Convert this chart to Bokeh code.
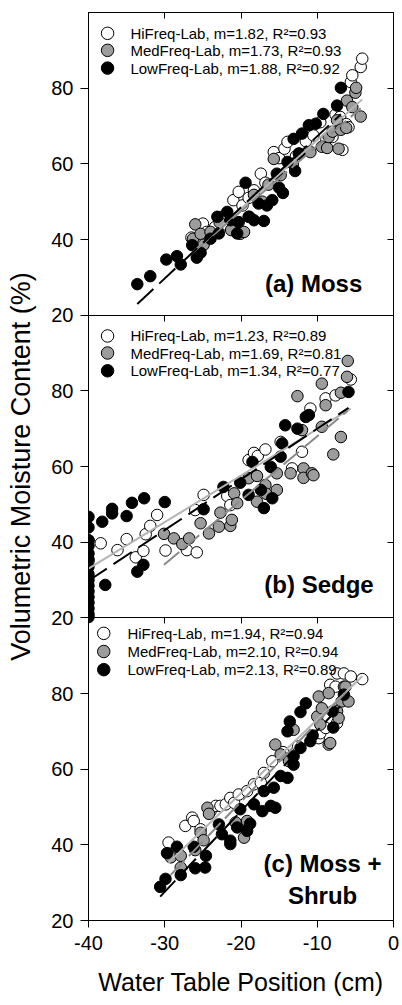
import numpy as np
from bokeh.plotting import figure
from bokeh.models import Range1d, LinearAxis, FixedTicker
from bokeh.core.properties import value
from bokeh.embed import file_html
from bokeh.resources import INLINE

# ---------------- data ----------------
series = ["HiFreq-Lab", "MedFreq-Lab", "LowFreq-Lab"]
panel_keys = ["a", "b", "c"]
panel_titles = ["(a) Moss", "(b) Sedge", "(c) Moss +\nShrub"]

xticks = [-40, -30, -20, -10, 0]
xtick_labels = ["-40", "-30", "-20", "-10", "0"]
yticks = [20, 40, 60, 80]

# Panel (a) Moss
hi_a_x = [-26.5, -25.0, -24.5, -23.4, -22.5, -21.8, -21.0, -20.3, -19.8, -19.0, -18.3, -17.4, -16.8, -15.7, -15.0, -14.3,
          -13.9, -12.8, -11.5, -10.5, -9.6, -8.8, -8.0, -7.6, -7.0, -6.7, -6.2, -5.9, -5.6, -5.4, -4.3, -4.1]
hi_a_y = [40.5, 44.2, 42.0, 43.3, 46.0, 43.8, 50.4, 52.6, 49.0, 51.0, 53.0, 57.4, 55.0, 63.1, 61.5, 64.0,
          65.8, 62.0, 66.0, 67.5, 71.0, 66.5, 67.1, 73.0, 72.4, 63.7, 70.5, 69.7, 81.6, 83.4, 85.6, 87.8]
med_a_x = [-26.3, -26.0, -25.3, -24.9, -24.0, -22.8, -21.3, -20.1, -19.6, -18.9, -18.3, -17.2, -16.4, -15.7, -14.8, -13.2,
           -12.4, -10.9, -9.4, -8.7, -8.5, -8.0, -7.4, -7.2, -6.9, -6.2, -6.1, -5.4, -5.0, -4.9, -4.3]
med_a_y = [40.2, 44.0, 41.5, 38.6, 42.0, 44.5, 42.5, 41.5, 42.0, 46.0, 51.8, 50.0, 54.5, 61.3, 57.0, 60.0,
           62.7, 63.1, 64.5, 64.2, 67.1, 68.5, 71.5, 64.0, 69.0, 69.5, 76.7, 75.0, 78.8, 80.1, 72.5]
low_a_x = [-33.6, -31.9, -29.8, -28.4, -27.9, -26.4, -25.8, -25.3, -24.0, -23.1, -22.9, -21.8, -21.4, -20.5, -20.3, -19.4,
           -19.0, -18.3, -17.7, -17.0, -16.6, -15.9, -15.3, -15.0, -14.5, -13.9, -13.1, -12.9, -12.4, -12.0, -11.1, -10.2,
           -9.2, -7.4, -6.9]
low_a_y = [28.2, 30.3, 34.7, 35.6, 33.4, 38.5, 35.2, 36.5, 40.2, 46.0, 41.6, 47.3, 45.1, 41.6, 44.6, 55.0,
           46.0, 45.1, 49.5, 44.9, 49.0, 50.4, 57.4, 53.7, 52.3, 60.5, 66.6, 58.1, 62.7, 68.0, 70.2, 70.6,
           73.2, 75.4, 80.1]
slope_a = [1.82, 1.73, 1.88]
r2_a = [0.93, 0.93, 0.92]
icpt_a = [84.5, 82.1, 86.1]

# Panel (b) Sedge
hi_b_x = [-40.0, -40.0, -38.4, -36.2, -35.0, -33.8, -32.8, -32.5, -31.9, -31.0, -29.9, -27.1, -26.0, -25.8, -24.9, -21.8,
          -21.4, -19.0, -18.3, -17.8, -16.8, -14.8, -13.3, -12.0, -10.9, -8.9, -7.6, -5.6]
hi_b_y = [40.5, 35.0, 39.7, 37.9, 40.8, 36.0, 37.7, 42.1, 44.3, 47.2, 37.8, 37.9, 48.5, 37.3, 52.5, 52.2,
          49.8, 61.7, 63.6, 62.8, 64.5, 66.5, 59.5, 63.9, 75.3, 78.0, 78.8, 83.0]
med_b_x = [-30.1, -28.8, -27.7, -26.8, -25.3, -24.2, -22.9, -22.7, -21.4, -21.2, -20.9, -20.5, -19.0, -17.9, -17.9, -16.8,
           -16.7, -15.3, -15.3, -13.5, -12.6, -12.0, -11.8, -11.8, -10.7, -10.5, -9.4, -9.4, -8.9, -7.9, -6.9, -6.9,
           -6.1, -6.0]
med_b_y = [42.2, 41.0, 39.5, 41.0, 45.0, 42.3, 44.1, 47.8, 44.3, 45.9, 52.9, 50.3, 56.9, 50.7, 57.5, 55.1,
           52.8, 58.2, 53.8, 58.2, 78.6, 69.6, 59.5, 57.0, 58.2, 57.7, 70.5, 81.9, 76.2, 63.2, 67.8, 79.5,
           83.7, 87.9]
low_b_x = [-40.0, -40.0, -40.0, -40.0, -40.0, -40.0, -40.0, -40.0, -40.0, -40.0, -40.0, -40.0, -40.0, -40.0, -40.0, -40.0,
           -38.2, -37.8, -36.9, -36.9, -35.0, -34.3, -33.6, -32.8, -32.7, -30.0, -24.9, -22.3, -20.1, -19.0, -18.5, -17.4,
           -17.0, -16.1, -15.9, -14.8, -14.6, -14.2, -12.6, -11.5, -11.1, -5.9]
low_b_y = [46.7, 43.9, 40.5, 39.0, 37.0, 35.5, 33.5, 31.5, 30.0, 28.5, 27.0, 25.5, 24.0, 22.5, 21.0, 20.2,
           45.4, 28.7, 47.6, 48.8, 46.9, 50.4, 32.2, 34.0, 51.6, 50.6, 48.7, 54.6, 55.7, 52.5, 61.2, 53.8,
           49.0, 59.9, 51.6, 62.6, 66.1, 70.9, 70.0, 73.1, 73.6, 79.7]
slope_b = [1.23, 1.69, 1.34]
r2_b = [0.89, 0.81, 0.77]
icpt_b = [82.2, 84.9, 83.4]

# Panel (c) Moss + Shrub
hi_c_x = [-29.5, -27.3, -26.4, -26.2, -25.3, -24.0, -23.3, -22.7, -22.0, -21.4, -20.9, -20.3, -19.2, -18.3, -17.4, -17.0,
          -15.9, -14.5, -12.5, -9.8, -9.6, -8.9, -8.3, -7.6, -7.4, -7.4, -6.5, -5.6, -4.1]
hi_c_y = [40.6, 45.0, 47.2, 46.3, 44.1, 48.9, 50.3, 50.3, 50.7, 52.4, 51.1, 53.3, 54.2, 56.0, 56.4, 59.0,
          62.1, 64.5, 66.0, 68.2, 69.5, 70.9, 82.3, 81.8, 72.2, 85.3, 85.3, 84.5, 83.8]
med_c_x = [-29.2, -27.9, -27.9, -26.0, -25.3, -24.9, -24.4, -24.2, -20.7, -19.6, -19.2, -15.5, -14.8, -13.7, -13.1, -10.0,
           -9.8, -9.6, -9.4, -8.5, -8.5, -8.3, -7.4, -7.2, -6.8, -6.5, -6.3, -5.9]
med_c_y = [36.7, 37.1, 34.0, 38.6, 43.2, 41.2, 49.8, 48.2, 45.9, 41.9, 46.3, 66.5, 63.9, 62.1, 70.4, 73.9,
           79.2, 71.8, 76.1, 80.1, 66.5, 66.9, 75.3, 73.5, 77.9, 81.8, 81.8, 77.9]
low_c_x = [-30.6, -29.9, -29.7, -28.4, -27.9, -26.2, -26.0, -24.7, -24.6, -22.9, -22.5, -21.4, -21.4, -20.1, -20.5, -19.2,
           -18.8, -18.3, -17.0, -17.2, -16.1, -15.7, -15.5, -14.8, -13.9, -13.9, -13.6, -13.1, -13.1, -12.2, -11.5, -12.2,
           -10.9, -10.6, -8.0, -7.9, -6.5]
low_c_y = [28.9, 31.0, 37.8, 39.5, 32.0, 39.5, 33.8, 34.0, 37.1, 45.4, 42.8, 41.1, 40.2, 49.4, 44.6, 43.7,
           45.6, 50.7, 54.2, 48.9, 50.3, 55.1, 49.8, 58.2, 57.7, 70.0, 72.6, 61.2, 63.4, 75.1, 77.4, 65.6,
           67.4, 68.9, 75.3, 71.0, 79.7]
slope_c = [1.94, 2.10, 2.13]
r2_c = [0.94, 0.94, 0.89]
icpt_c = [92.5, 93.4, 91.5]

# ---------------- styles / layout ----------------
fills = ["white", "#9c9c9c", "black"]
line_colors = ["#b4b4b4", "#8a8a8a", "black"]
line_dashes = ["solid", "20 6", "22 8"]
FONT = "Liberation Sans"

xmin, xmax = -40, 0
ymin, ymax = 20, 100
span = ymax - ymin
npan = 3

leg_marker_x = [-37.5, -37.5, -38.0]
leg_text_x = [-34.5, -34.5, -34.9]
leg_rows = [[94.5, 90.0, 85.3], [94.5, 90.0, 85.3], [95.9, 91.1, 86.3]]
title_xy = [(-4.1, 28.5, "right"), (-2.6, 28.7, "right"), (-9.3, 30.8, "center")]

p = figure(width=402, height=1005, output_backend="svg", toolbar_location=None,
           x_range=Range1d(xmin, xmax), y_range=Range1d(ymin, ymin + npan * span),
           min_border_left=88, min_border_right=9, min_border_top=12, min_border_bottom=85,
           background_fill_color="white", border_fill_color="white")
p.grid.visible = False
p.outline_line_color = "black"
p.outline_line_width = 1

# extra y ranges: each panel keeps its own 20..100 scale
offsets = {"a": 2 * span, "b": span, "c": 0}
for k, off in offsets.items():
    if off:
        p.extra_y_ranges[k] = Range1d(ymin - off, ymin + npan * span - off)

def rname(k):
    return "default" if offsets[k] == 0 else k

# axes
all_yticks, ylabels = [], {}
for off in sorted(offsets.values()):
    for v in yticks:
        all_yticks.append(v + off)
        ylabels[v + off] = str(v)

yax = p.yaxis[0]
yax.ticker = FixedTicker(ticks=all_yticks)
yax.major_label_overrides = ylabels
yax.major_tick_out = 8
yax.major_tick_in = 0
yax.minor_tick_line_color = None
yax.major_label_standoff = 7
yax.major_label_text_font = FONT
yax.major_label_text_font_size = "20px"
yax.major_label_text_color = "black"
yax.axis_label = "Volumetric Moisture Content (%)"
yax.axis_label_text_font = FONT
yax.axis_label_text_font_size = "27px"
yax.axis_label_text_font_style = "normal"
yax.axis_label_text_color = "black"
yax.axis_label_standoff = 12

xax = p.xaxis[0]
xax.ticker = FixedTicker(ticks=xticks)
xax.major_label_overrides = dict(zip(xticks, xtick_labels))
xax.major_tick_out = 7
xax.major_tick_in = 0
xax.minor_tick_line_color = None
xax.major_label_standoff = 8
xax.major_label_text_font = FONT
xax.major_label_text_font_size = "20px"
xax.major_label_text_color = "black"
xax.axis_label = "Water Table Position (cm)"
xax.axis_label_text_font = FONT
xax.axis_label_text_font_size = "25px"
xax.axis_label_text_font_style = "normal"
xax.axis_label_text_color = "black"
xax.axis_label_standoff = 15

right = LinearAxis(ticker=FixedTicker(ticks=all_yticks), major_tick_in=6, major_tick_out=0,
                   major_label_overrides={t: "" for t in all_yticks}, major_label_text_font_size="0px",
                   major_label_standoff=0, minor_tick_line_color=None)
p.add_layout(right, "right")

top = LinearAxis(ticker=FixedTicker(ticks=xticks), major_tick_in=6, major_tick_out=0,
                 major_label_overrides={t: "" for t in xticks}, major_label_text_font_size="0px",
                 major_label_standoff=0, minor_tick_line_color=None)
p.add_layout(top, "above")

for kk in range(1, npan):
    bax = LinearAxis(ticker=FixedTicker(ticks=xticks), fixed_location=ymin + kk * span,
                     major_tick_in=0, major_tick_out=6,
                     major_label_overrides={t: "" for t in xticks}, major_label_text_font_size="0px",
                     major_label_standoff=0, minor_tick_line_color=None)
    p.add_layout(bax, "below")

panel_data = {
    "a": ([(hi_a_x, hi_a_y), (med_a_x, med_a_y), (low_a_x, low_a_y)], slope_a, r2_a, icpt_a),
    "b": ([(hi_b_x, hi_b_y), (med_b_x, med_b_y), (low_b_x, low_b_y)], slope_b, r2_b, icpt_b),
    "c": ([(hi_c_x, hi_c_y), (med_c_x, med_c_y), (low_c_x, low_c_y)], slope_c, r2_c, icpt_c),
}

for pi, k in enumerate(panel_keys):
    pts, slopes, r2s, icpts = panel_data[k]
    rn = rname(k)
    # points
    for si, (xs, ys) in enumerate(pts):
        p.scatter(xs, ys, size=11.5, marker="circle", fill_color=fills[si], line_color="black",
                  line_width=1, y_range_name=rn)
    # regression lines
    for si, (xs, ys) in enumerate(pts):
        fx = np.array([min(xs), max(xs)])
        fy = slopes[si] * fx + icpts[si]
        p.line(fx, fy, line_color=line_colors[si], line_width=2, line_dash=line_dashes[si], y_range_name=rn)
    # legend
    for si in range(3):
        p.scatter([leg_marker_x[pi]], [leg_rows[pi][si]], size=12.5, marker="circle", fill_color=fills[si],
                  line_color="black", line_width=1, y_range_name=rn)
    labels = [f"{series[si]}, m={slopes[si]:.2f}, R\u00b2={r2s[si]:.2f}" for si in range(3)]
    p.text([leg_text_x[pi]] * 3, leg_rows[pi], text=labels, text_font=value(FONT), text_font_size="15px",
           text_baseline="middle", text_align="left", text_color="black", y_range_name=rn)
    tx, ty, al = title_xy[pi]
    p.text([tx], [ty], text=[panel_titles[pi]], text_font=value(FONT), text_font_size="24px",
           text_font_style="bold", text_baseline="middle", text_align=al, text_color="black",
           text_line_height=1.2, y_range_name=rn)

open("out.html", "w").write(file_html(p, INLINE))
